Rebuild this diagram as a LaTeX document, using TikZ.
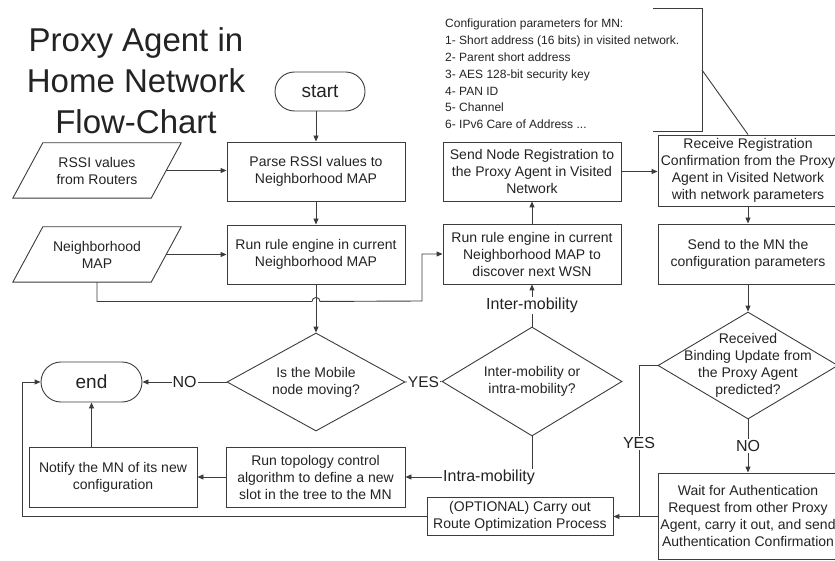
\documentclass[tikz,border=0pt]{standalone}
\usepackage{fontspec}
\setmainfont{Liberation Sans}
\usetikzlibrary{shapes.geometric,shapes.misc,arrows.meta}
\definecolor{linec}{RGB}{60,60,60}
\definecolor{textc}{RGB}{35,35,35}
\begin{document}
\begin{tikzpicture}[x=1pt,y=-1pt,
  every node/.style={text=textc},
  procbox/.style={draw=linec, line width=0.9pt, rectangle, inner sep=0pt, align=center, font=\fontsize{14}{17}\selectfont},
  term/.style={draw=linec, line width=0.9pt, rounded rectangle, inner sep=0pt, font=\fontsize{19}{22}\selectfont},
  decis/.style={draw=linec, line width=0.9pt, diamond, inner sep=0pt},
  dtext/.style={align=center, inner sep=0pt, font=\fontsize{14}{17}\selectfont},
  iotext/.style={inner sep=0pt, align=center, minimum width=138pt, minimum height=55pt, font=\fontsize{14}{17}\selectfont},
  conn/.style={draw=linec, line width=0.9pt},
  arr/.style={conn, -{Triangle[length=6pt,width=5pt]}},
  lab/.style={fill=white, inner sep=1pt, font=\fontsize{16}{19}\selectfont},
]
\useasboundingbox (0,0) rectangle (835,561);

% title
\node[align=center, inner sep=0pt, font=\fontsize{33}{41}\selectfont] (title) at (136,81) {Proxy Agent in\\Home Network\\Flow-Chart};

% terminals
\node[term, minimum width=90pt, minimum height=39pt] (start) at (320,91.5) {start};
\node[term, minimum width=101pt, minimum height=40pt] (end) at (91.5,382) {end};

% process boxes
\node[procbox, minimum width=178pt, minimum height=59pt] (parse) at (316,171.5) {Parse RSSI values to\\Neighborhood MAP};
\node[procbox, minimum width=178pt, minimum height=59pt] (run) at (316,254.5) {Run rule engine in current\\Neighborhood MAP};
\node[procbox, minimum width=178pt, minimum height=60pt] (run2) at (532,254) {Run rule engine in current\\Neighborhood MAP to\\discover next WSN};
\node[procbox, minimum width=178pt, minimum height=59pt] (send) at (532,171.5) {Send Node Registration to\\the Proxy Agent in Visited\\Network};
\node[procbox, minimum width=180pt, minimum height=71pt] (recv) at (748,170.5) {Receive Registration\\Confirmation from the Proxy\\Agent in Visited Network\\with network parameters};
\node[procbox, minimum width=180pt, minimum height=60pt] (sendmn) at (748,254) {Send to the MN the\\configuration parameters};
\node[procbox, minimum width=180pt, minimum height=86pt] (wait) at (748,516) {Wait for Authentication\\Request from other Proxy\\Agent, carry it out, and send\\Authentication Confirmation};
\node[procbox, minimum width=186pt, minimum height=38pt] (opt) at (520,516.5) {(OPTIONAL) Carry out\\Route Optimization Process};
\node[procbox, minimum width=179pt, minimum height=60pt] (topo) at (315.5,477) {Run topology control\\algorithm to define a new\\slot in the tree to the MN};
\node[procbox, minimum width=168pt, minimum height=60pt] (notify) at (113,477) {Notify the MN of its new\\configuration};

% input/output parallelograms
\node[iotext] (rssi) at (97,170.5) {RSSI values\\from Routers};
\draw[conn] ([xshift=-15pt]rssi.south west) -- ([xshift=15pt]rssi.north west) -- ([xshift=15pt]rssi.north east) -- ([xshift=-15pt]rssi.south east) -- cycle;
\node[iotext] (nmap) at (97,254.5) {Neighborhood\\MAP};
\draw[conn] ([xshift=-15pt]nmap.south west) -- ([xshift=15pt]nmap.north west) -- ([xshift=15pt]nmap.north east) -- ([xshift=-15pt]nmap.south east) -- cycle;

% decisions
\node[decis, minimum width=178pt, minimum height=98pt] (mob) at (316,382) {};
\node[dtext] (mobt) at (mob) {Is the Mobile\\node moving?};
\node[decis, minimum width=180pt, minimum height=109pt] (inter) at (532,381.5) {};
\node[dtext] (intert) at (inter) {Inter-mobility or\\intra-mobility?};
\node[decis, minimum width=180pt, minimum height=107pt] (bind) at (748,365.5) {};
\node[dtext] (bindt) at (bind) {Received\\Binding Update from\\the Proxy Agent\\predicted?};

% configuration annotation
\node[anchor=west, align=left, inner sep=0pt, font=\fontsize{12}{16.8}\selectfont] (cfg) at (445,74) {Configuration parameters for MN:\\1- Short address (16 bits) in visited network.\\2- Parent short address\\3- AES 128-bit security key\\4- PAN ID\\5- Channel\\6- IPv6 Care of Address ...};
\draw[conn] (653,8) -- (702,8) -- (702,131) -- (653,131);
\coordinate (brk) at (702,70);
\draw[conn] (brk) -- (recv.north);

% connectors
\draw[arr] (start.south -| parse.north) -- (parse.north);
\draw[arr] (rssi.east) -- (parse.west |- rssi.east);
\draw[arr] (parse.south) -- (run.north);
\draw[arr] (nmap.east) -- (run.west |- nmap.east);
\path (run.south) ++(0,17) coordinate (hop);
\coordinate (c1) at (422,301);
\draw[arr] (nmap.south) |- ([xshift=-4pt]hop) arc[start angle=180,end angle=0,radius=4pt] -- (c1) |- (run2.west);
\draw[arr] (run.south) -- (mob.north);
\draw[arr] (mob.west) -- node[lab] {NO} (end.east);
\draw[arr] (mob.east) -- node[lab, font=\fontsize{15.5}{18}\selectfont, inner sep=0.5pt] {YES} (inter.west);
\draw[arr] (inter.north) -- node[lab] {Inter-mobility} (run2.south);
\draw[arr] (inter.south) |- node[lab, pos=0.67] {Intra-mobility} (topo.east);
\draw[arr] (run2.north) -- (send.south);
\draw[arr] (send.east) -- (recv.west |- send.east);
\draw[arr] (recv.south) -- (sendmn.north);
\draw[arr] (sendmn.south) -- (bind.north);
\draw[arr] (bind.south) -- node[lab] {NO} (wait.north);
\coordinate (j) at (639,516.5);
\draw[conn] (bind.west) -| node[lab, pos=0.757] {YES} (j);
\draw[arr] (wait.west |- opt.east) -- (opt.east);
\draw[arr] (topo.west) -- (notify.east);
\draw[arr] (notify.north -| end.south) -- (end.south);
\coordinate (c2) at (22,516.5);
\draw[arr] (opt.west) -- (c2) |- (end.west);
\end{tikzpicture}
\end{document}
